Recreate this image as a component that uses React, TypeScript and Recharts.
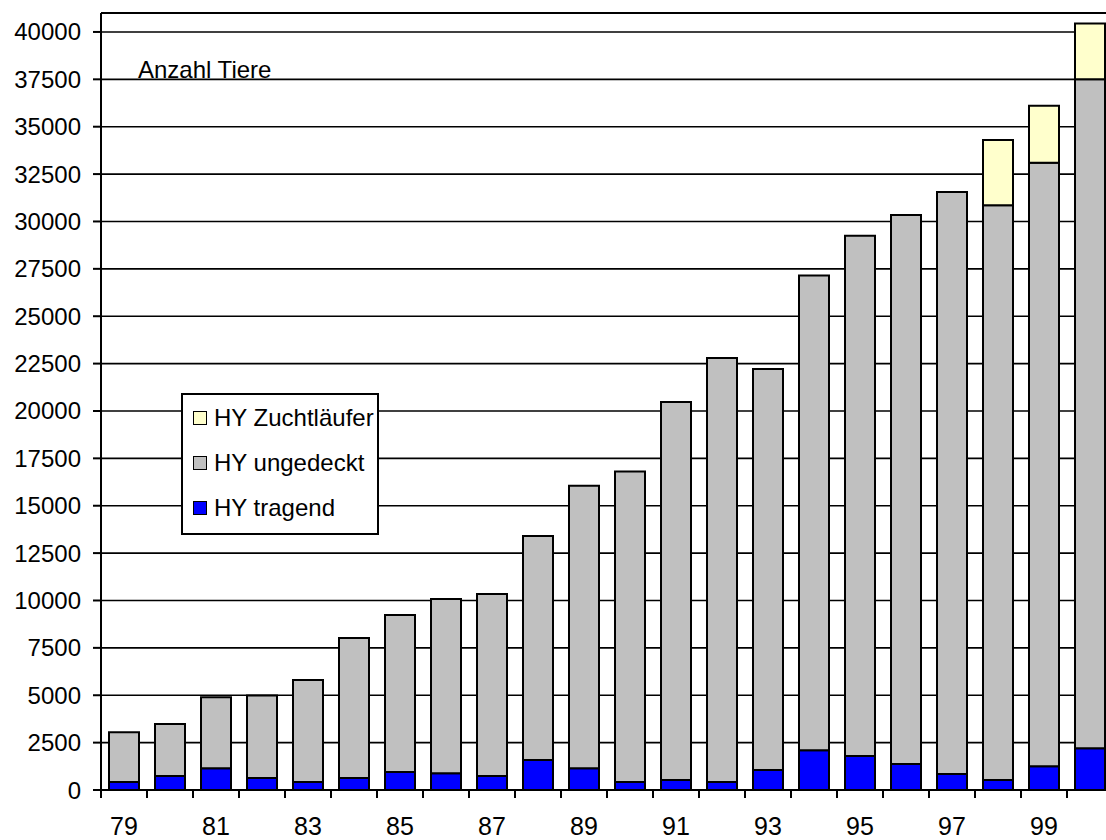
import React from 'react'
import {
  BarChart,
  Bar,
  XAxis,
  YAxis,
  CartesianGrid,
  Legend,
  ReferenceLine,
} from 'recharts'

const years = ['79', '80', '81', '82', '83', '84', '85', '86', '87', '88', '89', '90', '91', '92', '93', '94', '95', '96', '97', '98', '99', '00']
const tragend = [420, 740, 1150, 630, 420, 630, 950, 880, 740, 1580, 1150, 420, 530, 420, 1050, 2100, 1800, 1370, 850, 530, 1250, 2200]
const ungedeckt = [2630, 2740, 3750, 4350, 5380, 7390, 8280, 9200, 9600, 11820, 14900, 16380, 19950, 22380, 21170, 25050, 27450, 28970, 30710, 30320, 31850, 35300]
const zuchtlaeufer = [0, 0, 0, 0, 0, 0, 0, 0, 0, 0, 0, 0, 0, 0, 0, 0, 0, 0, 0, 3450, 3000, 2950]
const yTicks = [0, 2500, 5000, 7500, 10000, 12500, 15000, 17500, 20000, 22500, 25000, 27500, 30000, 32500, 35000, 37500, 40000]
const legendOrder = ['HY Zuchtläufer', 'HY ungedeckt', 'HY tragend']

const data = years.map((year, i) => ({
  year,
  tragend: tragend[i],
  ungedeckt: ungedeckt[i],
  zucht: zuchtlaeufer[i],
}))

const FONT = '"Liberation Sans", Arial, sans-serif'

function YearTick(props: any) {
  const { x, y, payload, index } = props
  const half = payload && payload.offset ? payload.offset : 23
  return (
    <g>
      <line x1={x - half} x2={x - half} y1={y} y2={y + 8} stroke="#000" strokeWidth={2} />
      {index % 2 === 0 && (
        <text x={x} y={y + 45} textAnchor="middle" fontSize={25} fontFamily={FONT} fill="#000">
          {payload.value}
        </text>
      )}
    </g>
  )
}

function LegendBox(props: any) {
  const items = [...(props.payload || [])].sort(
    (a: any, b: any) => legendOrder.indexOf(a.value) - legendOrder.indexOf(b.value)
  )
  return (
    <div
      style={{
        background: '#fff',
        border: '2px solid #000',
        width: 184,
        padding: '0 0 3px 10px',
        boxSizing: 'content-box',
        fontFamily: FONT,
        fontSize: 24,
        color: '#000',
      }}
    >
      {items.map((item: any) => (
        <div key={item.value} style={{ height: 45, display: 'flex', alignItems: 'center', whiteSpace: 'nowrap' }}>
          <span
            style={{
              width: 12,
              height: 12,
              background: item.color,
              border: '1.5px solid #000',
              marginRight: 7,
              display: 'inline-block',
              flex: 'none',
            }}
          />
          <span style={{ lineHeight: 1 }}>{item.value}</span>
        </div>
      ))}
    </div>
  )
}

export default function App() {
  return (
    <div
      style={{
        position: 'fixed',
        left: 0,
        top: 0,
        width: 1106,
        height: 840,
        overflow: 'hidden',
        background: '#fff',
      }}
    >
      <BarChart
        width={1113}
        height={840}
        data={data}
        margin={{ top: 13, right: 0, left: 0, bottom: 0 }}
      >
        <CartesianGrid vertical={false} stroke="#000" strokeWidth={1.6} />
        <XAxis
          dataKey="year"
          height={50}
          interval={0}
          tickSize={0}
          tickMargin={0}
          tick={<YearTick />}
          axisLine={{ stroke: '#000', strokeWidth: 2 }}
        />
        <YAxis
          width={101}
          domain={[0, 41000]}
          ticks={yTicks}
          interval={0}
          tickSize={8}
          tickMargin={12}
          tick={{ fontSize: 24, fontFamily: FONT, fill: '#000' }}
          tickLine={{ stroke: '#000', strokeWidth: 2 }}
          axisLine={{ stroke: '#000', strokeWidth: 2 }}
          allowDataOverflow
        />
        <ReferenceLine y={41000} stroke="#000" strokeWidth={2} />
        <Legend
          layout="vertical"
          align="center"
          verticalAlign="middle"
          content={<LegendBox />}
          wrapperStyle={{ position: 'absolute', left: 181, top: 393, width: 'auto' }}
        />
        <Bar dataKey="tragend" name="HY tragend" stackId="a" fill="#0000FF" stroke="#000" strokeWidth={2} barSize={30} isAnimationActive={false} />
        <Bar dataKey="ungedeckt" name="HY ungedeckt" stackId="a" fill="#C0C0C0" stroke="#000" strokeWidth={2} barSize={30} isAnimationActive={false} />
        <Bar dataKey="zucht" name="HY Zuchtläufer" stackId="a" fill="#FFFFCC" stroke="#000" strokeWidth={2} barSize={30} isAnimationActive={false} />
      </BarChart>
      <div
        style={{
          position: 'absolute',
          left: 138,
          top: 56,
          fontFamily: FONT,
          fontSize: 24,
          color: '#000',
          pointerEvents: 'none',
        }}
      >
        Anzahl Tiere
      </div>
    </div>
  )
}
